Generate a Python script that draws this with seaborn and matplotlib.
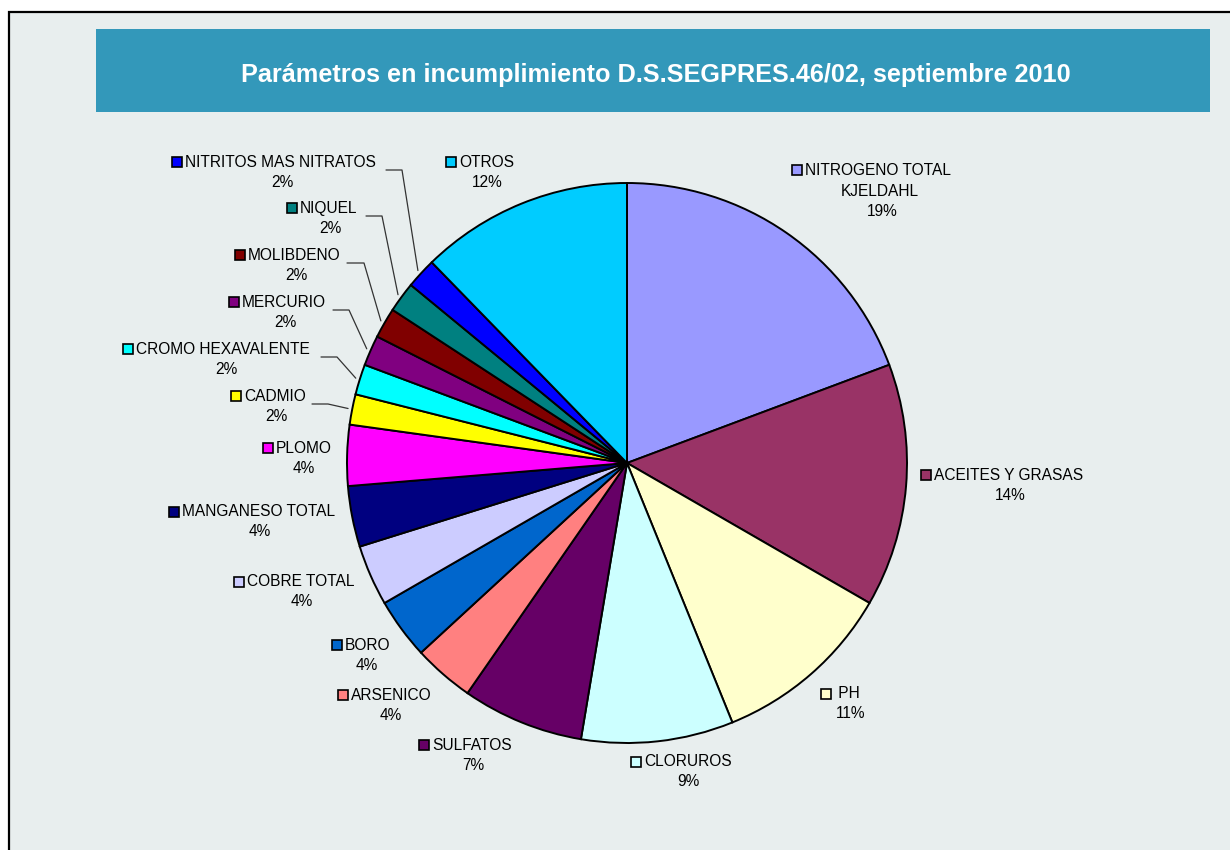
import numpy as np
import matplotlib
matplotlib.use("Agg")
import matplotlib.pyplot as plt
import seaborn as sns
from matplotlib.patches import Rectangle

# datos del grafico
parametros = ["NITROGENO TOTAL\nKJELDAHL", "ACEITES Y GRASAS", " PH", "CLORUROS", "SULFATOS",
              "ARSENICO", "BORO", "COBRE TOTAL", "MANGANESO TOTAL", "PLOMO",
              "CADMIO", "CROMO HEXAVALENTE", "MERCURIO", "MOLIBDENO", "NIQUEL",
              "NITRITOS MAS NITRATOS", "OTROS"]
casos = [11, 8, 6, 5, 4, 2, 2, 2, 2, 2, 1, 1, 1, 1, 1, 1, 7]
colores = ["#9999FF", "#993366", "#FFFFCC", "#CCFFFF", "#660066",
           "#FF8080", "#0066CC", "#CCCCFF", "#000080", "#FF00FF",
           "#FFFF00", "#00FFFF", "#800080", "#800000", "#008080",
           "#0000FF", "#00CCFF"]
titulo = "Parámetros en incumplimiento D.S.SEGPRES.46/02, septiembre 2010"

# posicion de las etiquetas (pixeles desde arriba): cuadro x, linea y, centro del % x
etiq_key_x = [797, 926, 826, 636, 424, 343, 337, 239, 174, 268, 236, 128, 234, 240, 292, 177, 451]
etiq_y = [170, 475, 694, 762, 745, 695, 645, 582, 512, 448, 396, 349, 302, 255, 208, 162, 162]
etiq_pct_x = [882, 1010, 851, 688, 473, 391, 367, 302, 260, 304, 276, 226, 285, 296, 330, 282, 487]
# lineas guia (solo rebanadas pequeñas): inicio x, codo x
guia_x0 = {10: 312, 11: 321, 12: 333, 13: 347, 14: 366, 15: 386}
guia_x1 = {10: 328, 11: 337, 12: 349, 13: 364, 14: 382, 15: 402}

W, H = 1230, 850
cx, cy, R = 627, 463, 280

sns.set_style("white")
plt.rcParams['font.family'] = ['Liberation Sans', 'DejaVu Sans']
plt.rcParams['text.color'] = 'black'

fig = plt.figure(figsize=(W / 100, H / 100), dpi=100)
fig.patch.set_facecolor("white")
ax = fig.add_axes([0, 0, 1, 1])

# fondo del grafico y caja del titulo (y invertida: H - y)
ax.add_patch(Rectangle((9, -20), W + 20, H - 12 + 20, facecolor="#E8EEEE",
                       edgecolor="black", lw=1.6, zorder=0))
ax.add_patch(Rectangle((96, H - 112), 1114, 83, facecolor="#3398BA", edgecolor="none", zorder=1))
ax.text(656, H - 75, titulo, color="white", fontsize=18.2, fontweight="bold",
        ha="center", va="center", zorder=2)

paleta = sns.color_palette(colores)
wedges, _ = ax.pie(casos, colors=paleta, startangle=90, counterclock=False,
                   center=(cx, H - cy), radius=R,
                   wedgeprops=dict(edgecolor="black", linewidth=1.4))
for w in wedges:
    w.set_zorder(3)

total = sum(casos)
fs = 11.2
for i, nombre in enumerate(parametros):
    pct = f"{int(casos[i] / total * 100 + 0.5)}%"
    kx, ky = etiq_key_x[i], etiq_y[i]
    ax.plot(kx, H - ky, marker="s", ms=7.5, mfc=colores[i], mec="black", mew=1.2, zorder=5)
    lineas = nombre.split("\n")
    ax.text(kx + 8, H - ky, lineas[0], fontsize=fs, ha="left", va="center", zorder=5)
    extra = 0
    if len(lineas) > 1:
        extra = 21
        ax.text(etiq_pct_x[i] - 2, H - ky - extra, lineas[1], fontsize=fs, ha="center", va="center", zorder=5)
    ax.text(etiq_pct_x[i], H - ky - 20 - extra, pct, fontsize=fs, ha="center", va="center", zorder=5)

    if i in guia_x0:
        w = wedges[i]
        ang = np.deg2rad((w.theta1 + w.theta2) / 2)
        ex = cx + 1.015 * R * np.cos(ang)
        ey = (H - cy) + 1.015 * R * np.sin(ang)
        ly = H - (ky + 8)
        ax.plot([guia_x0[i], guia_x1[i], ex], [ly, ly, ey], color="#333333", lw=0.9, zorder=4)

ax.set_xlim(0, W)
ax.set_ylim(0, H)
ax.set_aspect("equal")
ax.axis("off")

fig.savefig("out.png", dpi=100, facecolor=fig.get_facecolor())
